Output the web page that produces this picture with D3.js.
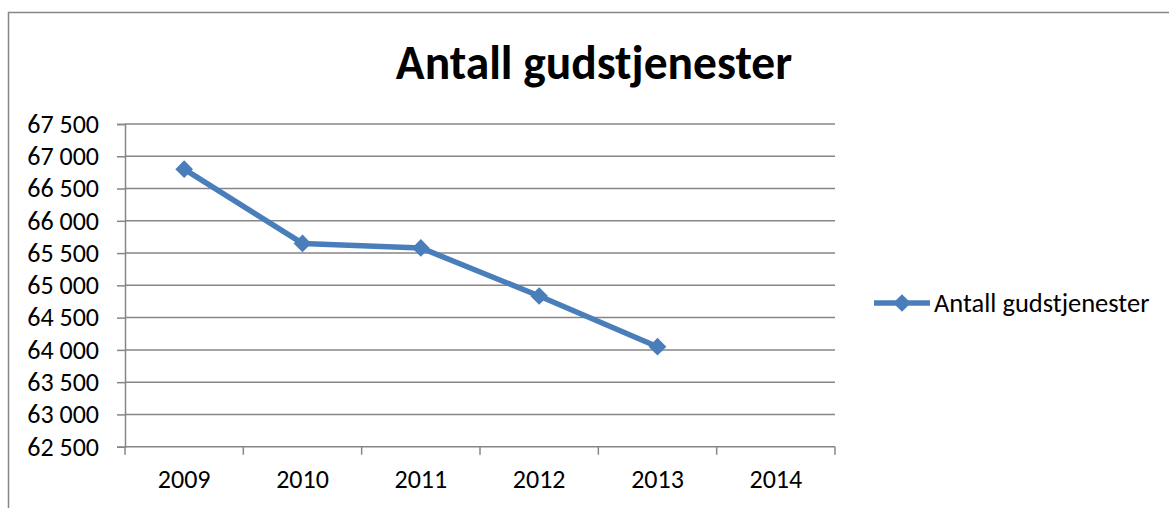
<!DOCTYPE html>
<html>
<head>
<meta charset="utf-8">
<script src="https://cdn.jsdelivr.net/npm/d3@7/dist/d3.min.js"></script>
<style>
html,body{margin:0;padding:0;background:#fff;}
svg{display:block;}
text{font-family:Carlito, Calibri, Lato, "Open Sans", sans-serif;fill:#000;}
</style>
</head>
<body>
<svg id="c" width="1169" height="508"></svg>
<script>
const title = "Antall gudstjenester";
const seriesName = "Antall gudstjenester";
const categories = ["2009","2010","2011","2012","2013","2014"];
const values = [66800, 65650, 65580, 64835, 64050, null];
const yTicks = [62500,63000,63500,64000,64500,65000,65500,66000,66500,67000,67500];

(function(){
const svg = d3.select("#c");
const W = 1169, H = 508;
svg.append("rect").attr("x",8.5).attr("y",12.5).attr("width",W).attr("height",H)
  .attr("fill","#fff").attr("stroke","#868686").attr("stroke-width",1.5);

const pLeft = 125, pRight = 835, pTop = 124, pBottom = 446.7;

const x = d3.scaleBand().domain(categories).range([pLeft,pRight]);
const y = d3.scaleLinear().domain([62500,67500]).range([pBottom,pTop]);

const fmt = v => d3.format(",")(v).replace(/,/g," ");
const ff = "Carlito, Calibri, Lato, 'Open Sans', sans-serif";

svg.append("g").selectAll("line").data(yTicks.filter(t=>t>62500)).join("line")
  .attr("x1",pLeft).attr("x2",pRight).attr("y1",d=>y(d)).attr("y2",d=>y(d))
  .attr("stroke","#868686").attr("stroke-width",1.5);

const yAxis = d3.axisLeft(y).tickValues(yTicks).tickFormat(fmt).tickSize(8).tickPadding(18);
const gy = svg.append("g").attr("transform",`translate(${pLeft},0)`).call(yAxis);
gy.select(".domain").attr("stroke","#868686").attr("stroke-width",1.5);
gy.selectAll(".tick line").attr("stroke","#868686").attr("stroke-width",1.5);
gy.selectAll("text").attr("font-size",26).attr("font-family",ff).attr("fill","#000");

const gx = svg.append("g").attr("transform",`translate(0,${pBottom})`);
gx.append("line").attr("x1",pLeft).attr("x2",pRight).attr("y1",0).attr("y2",0)
  .attr("stroke","#868686").attr("stroke-width",1.5);
const edges = categories.map(c=>x(c)).concat([pRight]);
gx.selectAll("line.tk").data(edges).join("line").attr("class","tk")
  .attr("x1",d=>d).attr("x2",d=>d).attr("y1",0).attr("y2",8)
  .attr("stroke","#868686").attr("stroke-width",1.5);
gx.selectAll("text").data(categories).join("text")
  .attr("x",d=>x(d)+x.bandwidth()/2).attr("y",41.6)
  .attr("text-anchor","middle").attr("font-size",26).text(d=>d);

const pts = categories.map((c,i)=>({c,v:values[i]})).filter(d=>d.v!=null);
const color = "#4A7EBB";
svg.append("path").datum(pts)
  .attr("d",d3.line().x(d=>x(d.c)+x.bandwidth()/2).y(d=>y(d.v)))
  .attr("fill","none").attr("stroke",color).attr("stroke-width",5.5).attr("stroke-linejoin","round");
const diamond = d3.symbol().type(d3.symbolDiamond2).size(200);
svg.append("g").selectAll("path").data(pts).join("path")
  .attr("d",diamond)
  .attr("transform",d=>`translate(${x(d.c)+x.bandwidth()/2},${y(d.v)})`)
  .attr("fill",color);

svg.append("text").attr("x",594).attr("y",79.3).attr("text-anchor","middle")
  .attr("font-size",47.5).attr("font-weight","bold").text(title);

svg.append("line").attr("x1",874).attr("x2",930).attr("y1",303).attr("y2",303)
  .attr("stroke",color).attr("stroke-width",5.5);
svg.append("path").attr("d",diamond).attr("transform","translate(902,303)").attr("fill",color);
svg.append("text").attr("x",934).attr("y",311.7).attr("font-size",26.5).text(seriesName);
})();
</script>
</body>
</html>
